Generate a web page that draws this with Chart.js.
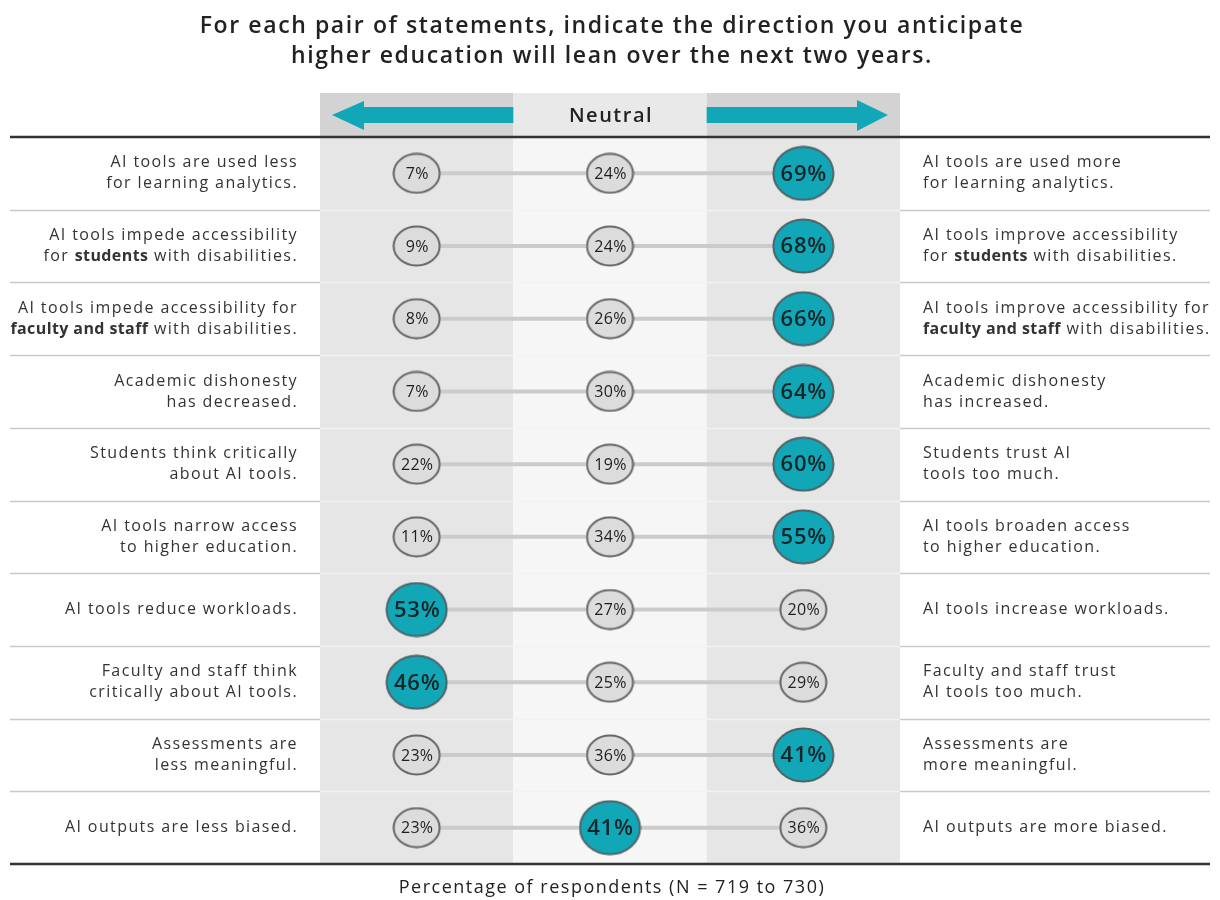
<!DOCTYPE html>
<html>
<head>
<meta charset="utf-8">
<script src="https://cdn.jsdelivr.net/npm/chart.js@4.4.1/dist/chart.umd.min.js"></script>
<style>
  body { margin: 0; background: #fff; }
  canvas { display: block; }
</style>
</head>
<body>
<canvas id="pairChart" width="1220" height="900"></canvas>
<script>
// --- data ---
var columns = ['Less', 'Neutral', 'More'];
var lessValues    = [7, 9, 8, 7, 22, 11, 53, 46, 23, 23];
var neutralValues = [24, 24, 26, 30, 19, 34, 27, 25, 36, 41];
var moreValues    = [69, 68, 66, 64, 60, 55, 20, 29, 41, 36];

// *word* = bold
var leftLabels = [
    ['AI tools are used less', 'for learning analytics.'],
    ['AI tools impede accessibility', 'for *students* with disabilities.'],
    ['AI tools impede accessibility for', '*faculty and staff* with disabilities.'],
    ['Academic dishonesty', 'has decreased.'],
    ['Students think critically', 'about AI tools.'],
    ['AI tools narrow access', 'to higher education.'],
    ['AI tools reduce workloads.'],
    ['Faculty and staff think', 'critically about AI tools.'],
    ['Assessments are', 'less meaningful.'],
    ['AI outputs are less biased.']
];
var rightLabels = [
    ['AI tools are used more', 'for learning analytics.'],
    ['AI tools improve accessibility', 'for *students* with disabilities.'],
    ['AI tools improve accessibility for', '*faculty and staff* with disabilities.'],
    ['Academic dishonesty', 'has increased.'],
    ['Students trust AI', 'tools too much.'],
    ['AI tools broaden access', 'to higher education.'],
    ['AI tools increase workloads.'],
    ['Faculty and staff trust', 'AI tools too much.'],
    ['Assessments are', 'more meaningful.'],
    ['AI outputs are more biased.']
];
var titleLines = [
    'For each pair of statements, indicate the direction you anticipate',
    'higher education will lean over the next two years.'
];
var footerText = 'Percentage of respondents (N = 719 to 730)';
var neutralText = 'Neutral';

var TEAL = '#12a7b7';
var FONT = "'Open Sans', sans-serif";

// ellipse markers used as point images
function makeEllipse(w, h, fill, stroke) {
    var c = document.createElement('canvas');
    c.width = w; c.height = h;
    var g = c.getContext('2d');
    g.beginPath();
    g.ellipse(w / 2, h / 2, w / 2 - 1.5, h / 2 - 1.5, 0, 0, Math.PI * 2);
    g.fillStyle = fill;
    g.fill();
    g.lineWidth = 2;
    g.strokeStyle = stroke;
    g.stroke();
    return c;
}
var smallDot = makeEllipse(49, 42, '#dcdcdc', '#666');
var bigDot = makeEllipse(63, 56, TEAL, '#4f6367');

var datasets = lessValues.map(function(v, i) {
    var vals = [lessValues[i], neutralValues[i], moreValues[i]];
    var top = Math.max.apply(null, vals);
    return {
        data: vals.map(function(val, j) { return { x: j, y: i, v: val }; }),
        showLine: true,
        borderColor: '#cbcbcb',
        borderWidth: 4,
        pointStyle: vals.map(function(val) { return val === top ? bigDot : smallDot; }),
        pointRadius: vals.map(function(val) { return val === top ? 30 : 23; }),
        hot: vals.map(function(val) { return val === top; })
    };
});

function drawRich(ctx, text, x, y, align) {
    var parts = text.split('*');
    var fonts = ['16px ' + FONT, 'bold 16px ' + FONT];
    var spacing = ['1.4px', '0.4px'];
    var total = 0;
    parts.forEach(function(p, k) {
        ctx.font = fonts[k % 2];
        ctx.letterSpacing = spacing[k % 2];
        total += ctx.measureText(p).width;
    });
    var cx = align === 'right' ? x - total : x;
    ctx.textAlign = 'left';
    parts.forEach(function(p, k) {
        ctx.font = fonts[k % 2];
        ctx.letterSpacing = spacing[k % 2];
        ctx.fillText(p, cx, y);
        cx += ctx.measureText(p).width;
    });
    ctx.letterSpacing = '0px';
}

var panelPlugin = {
    id: 'panel',
    beforeDatasetsDraw: function(chart) {
        var ctx = chart.ctx, xs = chart.scales.x, ys = chart.scales.y;
        var area = chart.chartArea;
        var headTop = 93;
        ctx.save();
        ctx.fillStyle = '#fff';
        ctx.fillRect(0, 0, chart.width, chart.height);

        // column bands
        var bodyCol = ['#e6e6e6', '#f6f6f6', '#e6e6e6'];
        var headCol = ['#d3d3d3', '#e9e9e9', '#d3d3d3'];
        columns.forEach(function(c, j) {
            var x0 = xs.getPixelForValue(j - 0.5), x1 = xs.getPixelForValue(j + 0.5);
            ctx.fillStyle = headCol[j];
            ctx.fillRect(x0, headTop, x1 - x0, area.top - headTop);
            ctx.fillStyle = bodyCol[j];
            ctx.fillRect(x0, area.top, x1 - x0, area.bottom - area.top);
        });

        // row separators
        for (var r = 1; r < leftLabels.length; r++) {
            var yy = Math.round(ys.getPixelForValue(r - 0.5)) + 0.5;
            ctx.lineWidth = 1.5;
            ctx.strokeStyle = '#c9c9c9';
            ctx.beginPath();
            ctx.moveTo(10, yy); ctx.lineTo(area.left, yy);
            ctx.moveTo(area.right, yy); ctx.lineTo(1210, yy);
            ctx.stroke();
            ctx.strokeStyle = '#f2f2f2';
            ctx.beginPath();
            ctx.moveTo(area.left, yy); ctx.lineTo(area.right, yy);
            ctx.stroke();
        }
        // heavy rules
        ctx.strokeStyle = '#333';
        ctx.lineWidth = 2.5;
        ctx.beginPath();
        ctx.moveTo(10, area.top); ctx.lineTo(1210, area.top);
        ctx.moveTo(10, area.bottom); ctx.lineTo(1210, area.bottom);
        ctx.stroke();

        // arrows
        var ay = 115;
        ctx.fillStyle = TEAL;
        ctx.beginPath();
        ctx.moveTo(332, ay); ctx.lineTo(364, 101); ctx.lineTo(364, 107);
        ctx.lineTo(xs.getPixelForValue(0.5), 107); ctx.lineTo(xs.getPixelForValue(0.5), 123);
        ctx.lineTo(364, 123); ctx.lineTo(364, 130); ctx.closePath();
        ctx.fill();
        ctx.beginPath();
        ctx.moveTo(888, ay); ctx.lineTo(857, 100); ctx.lineTo(857, 107);
        ctx.lineTo(xs.getPixelForValue(1.5), 107); ctx.lineTo(xs.getPixelForValue(1.5), 123);
        ctx.lineTo(857, 123); ctx.lineTo(857, 131); ctx.closePath();
        ctx.fill();

        ctx.fillStyle = '#222';
        ctx.textBaseline = 'middle';
        ctx.textAlign = 'center';
        ctx.font = '600 20px ' + FONT;
        ctx.letterSpacing = '1.5px';
        ctx.fillText(neutralText, xs.getPixelForValue(1) + 1, 116);

        // title and footer
        ctx.font = '600 23px ' + FONT;
        ctx.letterSpacing = '1.6px';
        ctx.fillText(titleLines[0], 612, 26);
        ctx.fillText(titleLines[1], 612, 56);
        ctx.font = '18px ' + FONT;
        ctx.letterSpacing = '1.5px';
        ctx.fillText(footerText, 612, 888);
        ctx.letterSpacing = '0px';

        // row labels
        ctx.fillStyle = '#333';
        leftLabels.forEach(function(lines, i) {
            var cy = ys.getPixelForValue(i);
            lines.forEach(function(t, k) {
                var off = (k - (lines.length - 1) / 2) * 21;
                drawRich(ctx, t, 298, cy + off, 'right');
            });
        });
        rightLabels.forEach(function(lines, i) {
            var cy = ys.getPixelForValue(i);
            lines.forEach(function(t, k) {
                var off = (k - (lines.length - 1) / 2) * 21;
                drawRich(ctx, t, 923, cy + off, 'left');
            });
        });
        ctx.restore();
    },
    afterDatasetsDraw: function(chart) {
        var ctx = chart.ctx;
        ctx.save();
        ctx.textAlign = 'center';
        ctx.textBaseline = 'middle';
        chart.data.datasets.forEach(function(ds, i) {
            chart.getDatasetMeta(i).data.forEach(function(pt, j) {
                var hot = ds.hot[j];
                ctx.font = hot ? '600 22px ' + FONT : '500 16px ' + FONT;
                ctx.letterSpacing = hot ? '0.8px' : '0.3px';
                ctx.fillStyle = hot ? '#14262a' : '#1e1e1e';
                ctx.fillText(ds.data[j].v + '%', pt.x + 0.5, pt.y + 1);
            });
        });
        ctx.restore();
    }
};

new Chart(document.getElementById('pairChart'), {
    type: 'scatter',
    data: { datasets: datasets },
    options: {
        responsive: false,
        animation: false,
        layout: { padding: { left: 320, right: 320, top: 137, bottom: 36 } },
        plugins: { legend: { display: false }, tooltip: { enabled: false } },
        scales: {
            x: { type: 'linear', min: -0.5, max: 2.5, display: false },
            y: { type: 'linear', min: -0.5, max: 9.5, reverse: true, display: false }
        }
    },
    plugins: [panelPlugin]
});
</script>
</body>
</html>
